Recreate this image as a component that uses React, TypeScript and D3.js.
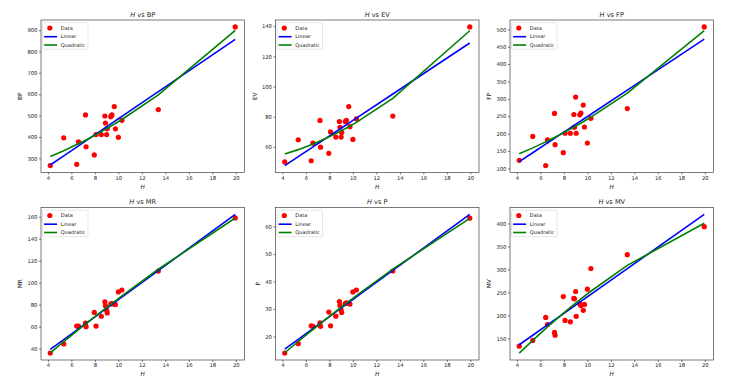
import { useEffect, useRef } from 'react';
import * as d3 from 'd3';

// shared x values (H), sorted
const hValues = [4.2, 5.35, 6.45, 6.6, 7.2, 7.25, 7.95, 8.1, 8.55, 8.85, 8.9, 9.0, 9.05, 9.35, 9.45, 9.65, 9.75, 10.0, 10.3, 13.4, 19.95];

const bpValues = [266, 396, 272, 377, 503, 354, 316, 411, 411, 498, 465, 411, 438, 495, 503, 542, 438, 398, 478, 528, 915];
const evValues = [50, 64.7, 50.8, 62.5, 77.5, 59.8, 55.7, 69.9, 66.5, 76.8, 73, 66.5, 69.6, 76.8, 77.5, 86.7, 73.4, 64.9, 78.6, 80.4, 139.5];
const fpValues = [123, 192, 108, 182, 258, 168, 145, 201, 201, 255, 218, 305, 201, 254, 259, 282, 219, 173, 244, 272, 507];
const mrValues = [36, 44.3, 60.6, 60.6, 63.3, 60, 73, 60.6, 69.5, 82.6, 79, 75, 72.5, 80.8, 81, 80.5, 80.2, 91.6, 93.4, 110.6, 159];
const pValues = [14, 17.4, 23.9, 23.7, 25, 23.7, 28.9, 23.9, 27.4, 32.7, 31.3, 29.6, 28.7, 32, 32.2, 32, 31.8, 36.2, 36.9, 43.8, 63];
const mvValues = [133, 145.6, 195.7, 180, 163, 157, 241, 189, 186, 237, 236, 252, 198, 225, 221.5, 211, 224, 257, 302, 332, 393];

const xTicks = [4, 6, 8, 10, 12, 14, 16, 18, 20];
const bpTicks = [300, 400, 500, 600, 700, 800, 900];
const evTicks = [60, 80, 100, 120, 140];
const fpTicks = [100, 150, 200, 250, 300, 350, 400, 450, 500];
const mrTicks = [40, 60, 80, 100, 120, 140, 160];
const pTicks = [20, 30, 40, 50, 60];
const mvTicks = [150, 200, 250, 300, 350, 400];

const legendLabels = ['Data', 'Linear', 'Quadratic'];

const panels = [
  { name: 'BP', values: bpValues, ticks: bpTicks },
  { name: 'EV', values: evValues, ticks: evTicks },
  { name: 'FP', values: fpValues, ticks: fpTicks },
  { name: 'MR', values: mrValues, ticks: mrTicks },
  { name: 'P', values: pValues, ticks: pTicks },
  { name: 'MV', values: mvValues, ticks: mvTicks },
];

// least squares polynomial fit, returns coefficients c0 + c1 x + c2 x^2 ...
function polyfit(xs: number[], ys: number[], degree: number) {
  const n = degree + 1;
  const A = Array.from({ length: n }, () => new Array(n + 1).fill(0));
  for (let k = 0; k < xs.length; k++) {
    for (let i = 0; i < n; i++) {
      for (let j = 0; j < n; j++) A[i][j] += Math.pow(xs[k], i + j);
      A[i][n] += ys[k] * Math.pow(xs[k], i);
    }
  }
  for (let i = 0; i < n; i++) {
    let p = i;
    for (let r = i + 1; r < n; r++) if (Math.abs(A[r][i]) > Math.abs(A[p][i])) p = r;
    [A[i], A[p]] = [A[p], A[i]];
    for (let r = 0; r < n; r++) {
      if (r === i) continue;
      const f = A[r][i] / A[i][i];
      for (let c = i; c <= n; c++) A[r][c] -= f * A[i][c];
    }
  }
  return A.map((row, i) => row[n] / row[i]);
}

const evalPoly = (c: number[], x: number) => c.reduce((s, ci, i) => s + ci * Math.pow(x, i), 0);

const W = 732;
const H = 381;
const lefts = [41, 275.5, 510];
const tops = [20, 207.5];
const axW = 203.5;
const axH = 152.5;
const font = 'DejaVu Sans, sans-serif';

const App = () => {
  const svgRef = useRef<SVGSVGElement>(null);

  useEffect(() => {
    const svg = d3.select(svgRef.current);
    svg.selectAll('*').remove();

    const pad = (lo: number, hi: number) => {
      const m = (hi - lo) * 0.05;
      return [lo - m, hi + m];
    };

    panels.forEach((panel, idx) => {
      const left = lefts[idx % 3];
      const top = tops[Math.floor(idx / 3)];

      const lin = polyfit(hValues, panel.values, 1);
      const quad = polyfit(hValues, panel.values, 2);
      const linPts = hValues.map((h) => [h, evalPoly(lin, h)]);
      const quadPts = hValues.map((h) => [h, evalPoly(quad, h)]);

      const allY = panel.values.concat(linPts.map((d) => d[1]), quadPts.map((d) => d[1]));
      const [x0, x1] = pad(d3.min(hValues)!, d3.max(hValues)!);
      const [y0, y1] = pad(d3.min(allY)!, d3.max(allY)!);

      const x = d3.scaleLinear().domain([x0, x1]).range([0, axW]);
      const y = d3.scaleLinear().domain([y0, y1]).range([axH, 0]);

      const g = svg.append('g').attr('transform', `translate(${left}, ${top})`);

      g.append('rect')
        .attr('width', axW)
        .attr('height', axH)
        .attr('fill', 'white');

      // scatter
      g.selectAll('circle.pt')
        .data(panel.values)
        .enter()
        .append('circle')
        .attr('class', 'pt')
        .attr('cx', (d, i) => x(hValues[i]))
        .attr('cy', (d) => y(d))
        .attr('r', 2.6)
        .attr('fill', 'red');

      const line = d3
        .line<number[]>()
        .x((d) => x(d[0]))
        .y((d) => y(d[1]));

      g.append('path')
        .attr('d', line(linPts))
        .attr('fill', 'none')
        .attr('stroke', 'blue')
        .attr('stroke-width', 1.6);

      g.append('path')
        .attr('d', line(quadPts))
        .attr('fill', 'none')
        .attr('stroke', 'green')
        .attr('stroke-width', 1.6);

      // frame
      g.append('rect')
        .attr('width', axW)
        .attr('height', axH)
        .attr('fill', 'none')
        .attr('stroke', '#222')
        .attr('stroke-width', 0.6);

      const xAxis = d3.axisBottom(x).tickValues(xTicks).tickSize(2).tickPadding(1.5);
      const yAxis = d3.axisLeft(y).tickValues(panel.ticks).tickSize(2).tickPadding(1.5);

      const xg = g.append('g').attr('transform', `translate(0, ${axH})`).call(xAxis);
      const yg = g.append('g').call(yAxis);
      [xg, yg].forEach((ag) => {
        ag.select('.domain').remove();
        ag.selectAll('line').attr('stroke', '#222').attr('stroke-width', 0.6);
        ag.selectAll('text')
          .attr('fill', '#222')
          .style('font-family', font)
          .style('font-size', '5.3px');
      });

      // title
      const title = g
        .append('text')
        .attr('x', axW / 2)
        .attr('y', -3.5)
        .attr('text-anchor', 'middle')
        .style('font-family', font)
        .style('font-size', '6.6px')
        .attr('fill', '#222');
      title.append('tspan').style('font-style', 'italic').text('H');
      title.append('tspan').text(` vs ${panel.name}`);

      // x label
      g.append('text')
        .attr('x', axW / 2)
        .attr('y', axH + 16)
        .attr('text-anchor', 'middle')
        .style('font-family', font)
        .style('font-size', '5.8px')
        .style('font-style', 'italic')
        .attr('fill', '#222')
        .text('H');

      // y label
      const maxChars = d3.max(panel.ticks, (t) => String(t).length)!;
      const yl = -(10.2 + 3.6 * maxChars);
      g.append('text')
        .attr('transform', `translate(${yl}, ${axH / 2}) rotate(-90)`)
        .attr('text-anchor', 'middle')
        .attr('dy', '0.35em')
        .style('font-family', font)
        .style('font-size', '5.8px')
        .attr('fill', '#222')
        .text(panel.name);

      // legend
      const lg = g.append('g').attr('transform', 'translate(1.5, 2.7)');
      lg.append('rect')
        .attr('width', 45.5)
        .attr('height', 26.5)
        .attr('rx', 1.2)
        .attr('fill', 'white')
        .attr('fill-opacity', 0.8)
        .attr('stroke', '#cccccc')
        .attr('stroke-width', 0.5);
      const rows = [5.3, 14, 22.3];
      lg.append('circle').attr('cx', 7.3).attr('cy', rows[0]).attr('r', 2.6).attr('fill', 'red');
      lg.append('line')
        .attr('x1', 1.6).attr('x2', 14.6).attr('y1', rows[1]).attr('y2', rows[1])
        .attr('stroke', 'blue').attr('stroke-width', 1.6);
      lg.append('line')
        .attr('x1', 1.6).attr('x2', 14.6).attr('y1', rows[2]).attr('y2', rows[2])
        .attr('stroke', 'green').attr('stroke-width', 1.6);
      lg.selectAll('text.lbl')
        .data(legendLabels)
        .enter()
        .append('text')
        .attr('class', 'lbl')
        .attr('x', 18.3)
        .attr('y', (d, i) => rows[i])
        .attr('dy', '0.35em')
        .style('font-family', font)
        .style('font-size', '5px')
        .attr('fill', '#222')
        .text((d) => d);
    });
  }, []);

  return (
    <svg
      ref={svgRef}
      width={W}
      height={H}
      style={{ position: 'absolute', left: 0, top: 0, background: 'white' }}
    ></svg>
  );
};

export default App;
